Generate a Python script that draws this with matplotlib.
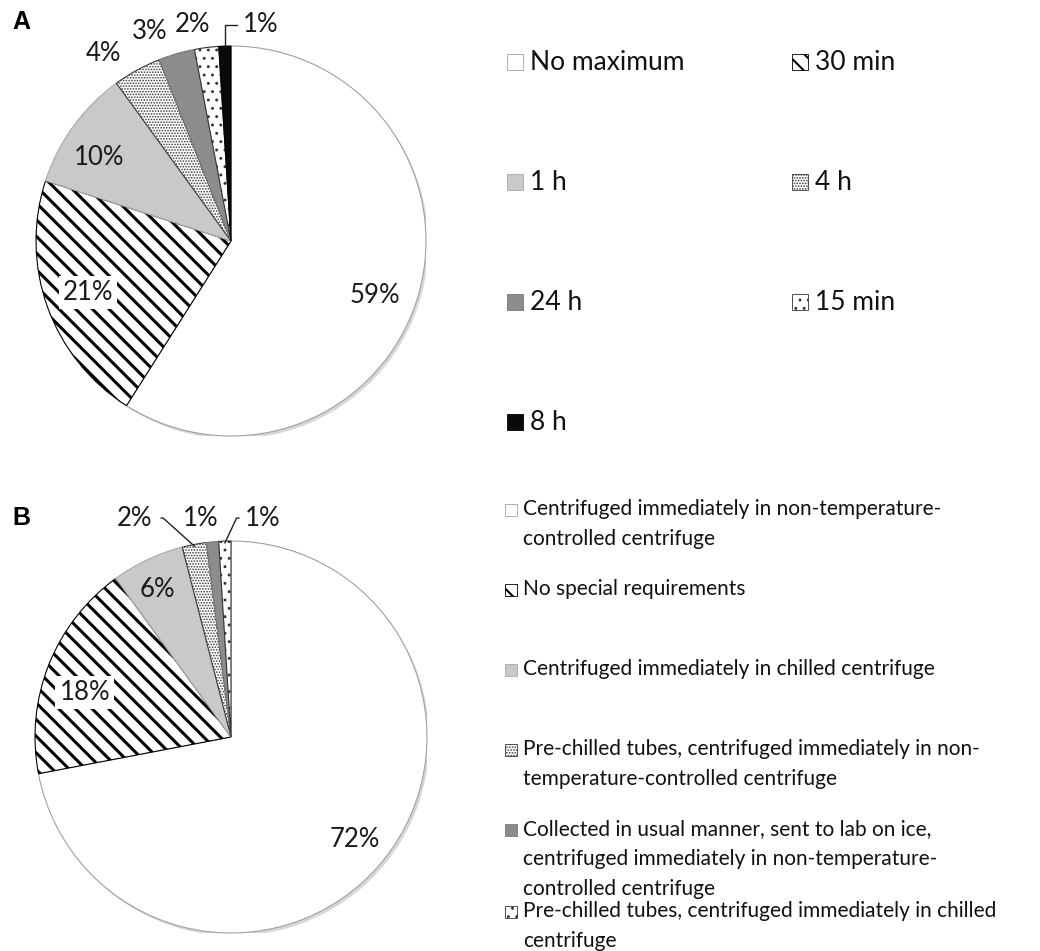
import numpy as np
import matplotlib
matplotlib.use("Agg")
import matplotlib.pyplot as plt
from matplotlib.patches import Rectangle, Circle

plt.rcParams["font.family"] = ["Lato", "DejaVu Sans"]
plt.rcParams["hatch.linewidth"] = 2.0

W, H = 1040, 951

# ---------------- data ----------------
labels_a = ["No maximum", "30 min", "1 h", "4 h", "24 h", "15 min", "8 h"]
values_a = [59, 21, 10, 4, 3, 2, 1]

labels_b = [
    "Centrifuged immediately in non-temperature-\ncontrolled centrifuge",
    "No special requirements",
    "Centrifuged immediately in chilled centrifuge",
    "Pre-chilled tubes, centrifuged immediately in non-\ntemperature-controlled centrifuge",
    "Collected in usual manner, sent to lab on ice,\ncentrifuged immediately in non-temperature-\ncontrolled centrifuge",
    "Pre-chilled tubes, centrifuged immediately in chilled\ncentrifuge",
]
values_b = [72, 18, 6, 2, 1, 1]

# slice styles (same order in both pies)
face_a = ["white", "white", "#c9c9c9", "white", "#8c8c8c", "white", "#0a0a0a"]
hatch_a = [None, "\\\\", None, "......", None, "..", None]
edge_a = ["#a0a0a0", "black", "#a8a8a8", "#3a3a3a", "#777777", "#333333", "black"]
hlw_a = [1, 2.2, 1, 0.8, 1, 0.9, 1]

face_b = face_a[:6]
hatch_b = hatch_a[:6]
edge_b = edge_a[:6]
hlw_b = hlw_a[:6]

PCT_SIZE = 18.5


def px_axes(cx, cy, r):
    return [(cx - r) / W, 1 - (cy + r) / H, 2 * r / W, 2 * r / H]


def draw_pie(ax, values, faces, hatches, edges, hlws):
    # soft shadow behind the pie
    ax.add_patch(Circle((0.012, -0.014), 1.0, facecolor="#bdbdbd",
                        edgecolor="none", alpha=0.6, zorder=0))
    wedges, _ = ax.pie(values, colors=faces, startangle=90, counterclock=False,
                       radius=1, wedgeprops=dict(linewidth=0.8))
    for w, h, e, lw in zip(wedges, hatches, edges, hlws):
        w.set_edgecolor(e)
        if h:
            w.set_hatch(h)
            if hasattr(w, "set_hatch_linewidth"):
                w.set_hatch_linewidth(lw)
    ax.set_xlim(-1, 1)
    ax.set_ylim(-1, 1)
    ax.set_aspect("equal")
    ax.axis("off")
    return wedges


def mid_xy(w, d, shift=0.0):
    ang = np.deg2rad((w.theta1 + w.theta2) / 2 + shift)
    return d * np.cos(ang), d * np.sin(ang)


fig = plt.figure(figsize=(W / 100, H / 100), dpi=100)
fig.patch.set_facecolor("white")

# ---------------- pie A ----------------
axA = fig.add_axes(px_axes(231, 241, 195))
wa = draw_pie(axA, values_a, face_a, hatch_a, edge_a, hlw_a)
dist_a = [0.79, 0.78, 0.80, 1.165, 1.15, 1.125]
shift_a = [-4.4, 0, 3.8, 5.5, 5.0, 2.8]
for i, d in enumerate(dist_a):
    x, y = mid_xy(wa[i], d, shift_a[i])
    bbox = dict(facecolor="white", edgecolor="none", pad=3) if i == 1 else None
    axA.text(x, y, f"{values_a[i]}%", ha="center", va="center",
             fontsize=PCT_SIZE, color="#1a1a1a", bbox=bbox)
# 1% with leader line
x0, y0 = mid_xy(wa[6], 1.0)
axA.annotate(f"{values_a[6]}%", xy=(x0, y0), xytext=(x0 + 0.09, y0 + 0.11),
             ha="left", va="center", fontsize=PCT_SIZE, color="#1a1a1a",
             arrowprops=dict(arrowstyle="-", color="#222222", lw=1,
                             connectionstyle="angle,angleA=0,angleB=90,rad=0",
                             shrinkA=2, shrinkB=0))

# ---------------- pie B ----------------
axB = fig.add_axes(px_axes(231, 737, 196))
wb = draw_pie(axB, values_b, face_b, hatch_b, edge_b, hlw_b)
dist_b = [0.82, 0.78, 0.84]
shift_b = [0, 4.6, 1.5]
for i, d in enumerate(dist_b):
    x, y = mid_xy(wb[i], d, shift_b[i])
    bbox = dict(facecolor="white", edgecolor="none", pad=3) if i == 1 else None
    axB.text(x, y, f"{values_b[i]}%", ha="center", va="center",
             fontsize=PCT_SIZE, color="#1a1a1a", bbox=bbox)
# 2% with leader
x0, y0 = mid_xy(wb[3], 0.99)
axB.annotate(f"{values_b[3]}%", xy=(x0, y0), xytext=(-0.40, 1.117),
             ha="right", va="center", fontsize=PCT_SIZE, color="#1a1a1a",
             arrowprops=dict(arrowstyle="-", color="#222222", lw=1,
                             connectionstyle="angle,angleA=0,angleB=138,rad=0",
                             shrinkA=4, shrinkB=0))
# 1% (fifth slice), no leader
x0, y0 = mid_xy(wb[4], 1.0)
axB.text(x0 - 0.06, 1.117, f"{values_b[4]}%", ha="center", va="center",
         fontsize=PCT_SIZE, color="#1a1a1a")
# 1% (sixth slice) with leader
x0, y0 = mid_xy(wb[5], 0.99)
axB.annotate(f"{values_b[5]}%", xy=(x0, y0), xytext=(0.07, 1.117),
             ha="left", va="center", fontsize=PCT_SIZE, color="#1a1a1a",
             arrowprops=dict(arrowstyle="-", color="#222222", lw=1,
                             connectionstyle="angle,angleA=0,angleB=65,rad=0",
                             shrinkA=2, shrinkB=0))

# panel letters
fig.text(12 / W, 1 - 22 / H, "A", fontsize=18, fontweight="bold",
         family=["Liberation Sans", "DejaVu Sans"], va="center")
fig.text(12 / W, 1 - 518 / H, "B", fontsize=18, fontweight="bold",
         family=["Liberation Sans", "DejaVu Sans"], va="center")


def legend_box(x, y, size, face, hatch, edge, hlw):
    r = Rectangle((x / W, 1 - (y + size / 2) / H), size / W, size / H,
                  transform=fig.transFigure, facecolor=face, edgecolor=edge,
                  linewidth=0.6, hatch=hatch)
    if hatch and hasattr(r, "set_hatch_linewidth"):
        r.set_hatch_linewidth(min(hlw, 1.5))
    fig.patches.append(r)


# ---------------- legend A ----------------
rows_a = [62, 62, 182, 182, 302, 302, 422]
cols_a = [507, 792, 507, 792, 507, 792, 507]
for i, lab in enumerate(labels_a):
    legend_box(cols_a[i], rows_a[i], 16, face_a[i], hatch_a[i], edge_a[i], hlw_a[i])
    fig.text((cols_a[i] + 23) / W, 1 - rows_a[i] / H, lab, fontsize=19,
             va="center", ha="left", color="#111111")

# ---------------- legend B ----------------
rows_b = [510, 590, 670, 750, 830, 912]
for i, lab in enumerate(labels_b):
    legend_box(505, rows_b[i], 12, face_b[i], hatch_b[i], edge_b[i], hlw_b[i])
    fig.text(523 / W, 1 - (rows_b[i] - 11) / H, lab, fontsize=15,
             va="top", ha="left", color="#111111", linespacing=1.62)

plt.savefig("out.png", dpi=100, facecolor="white")
